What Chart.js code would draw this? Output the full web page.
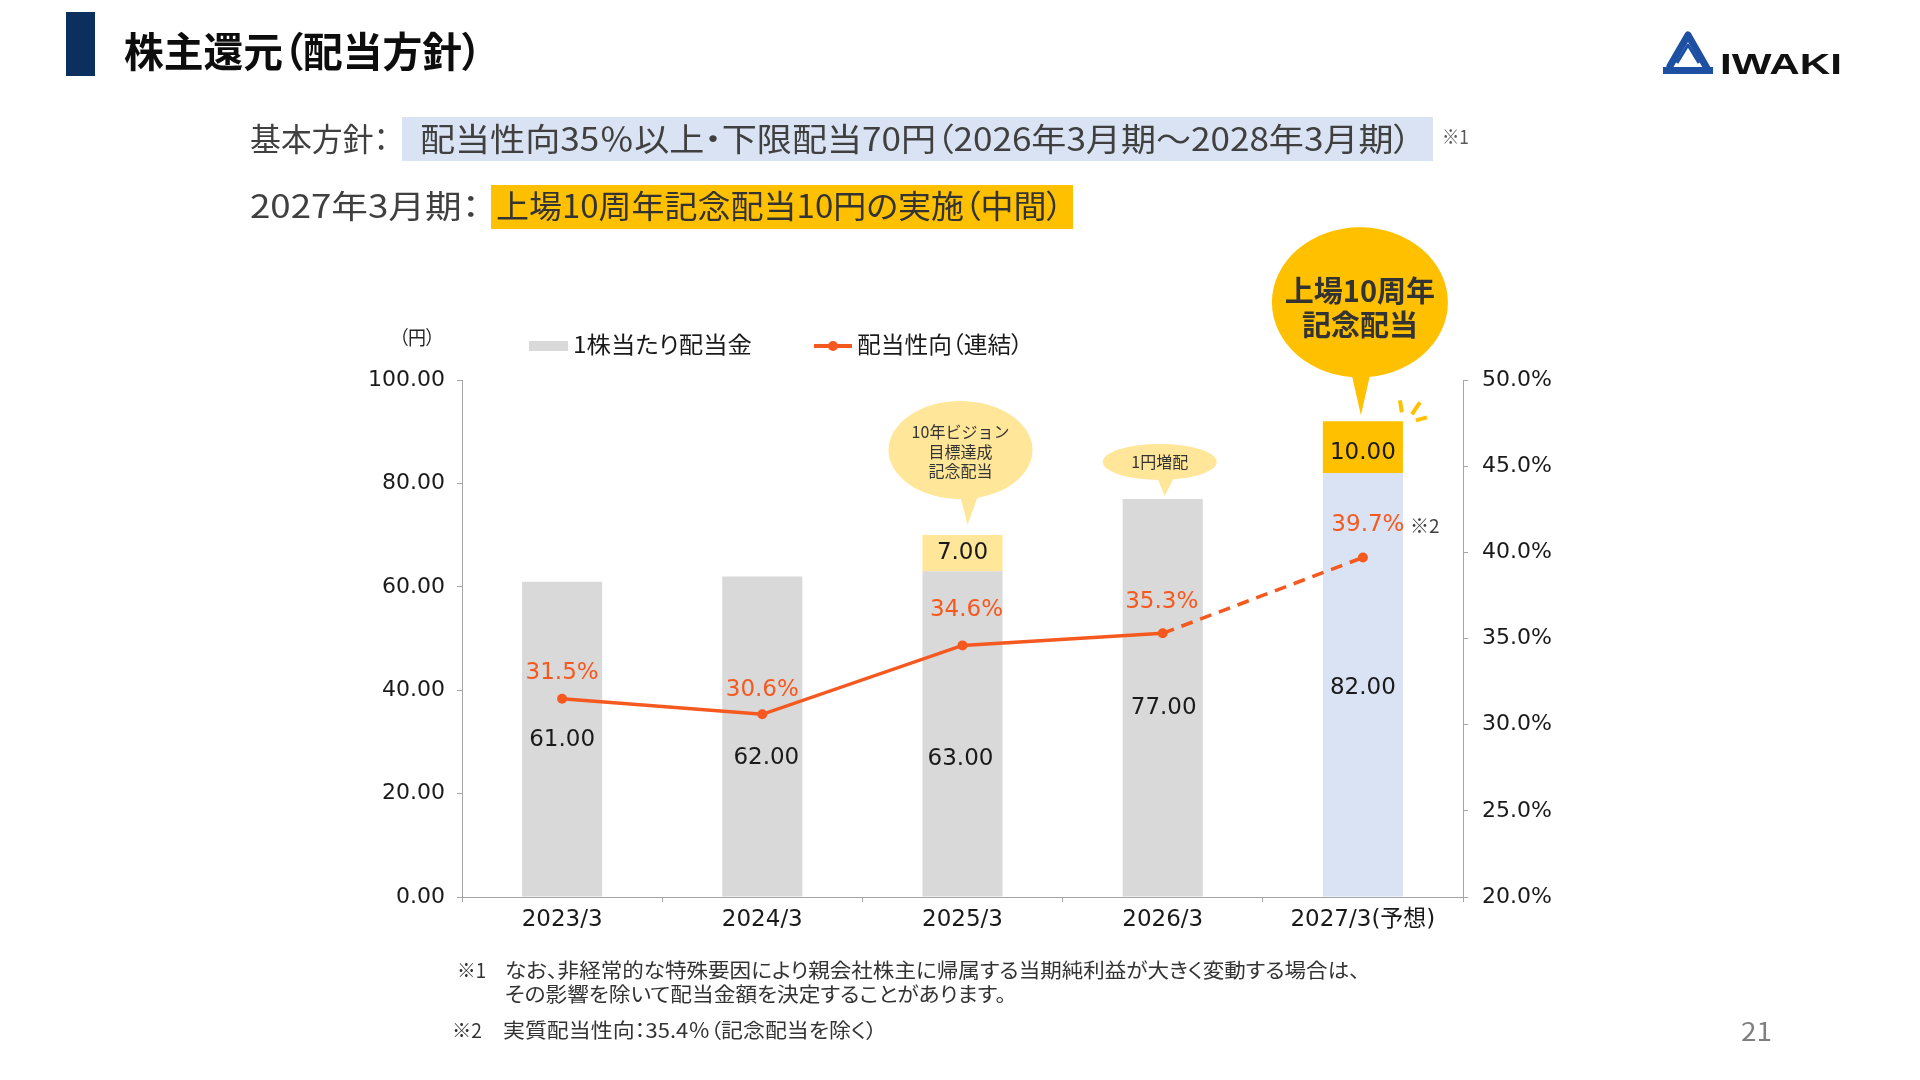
<!DOCTYPE html>
<html lang="ja">
<head>
<meta charset="utf-8">
<script src="https://cdn.jsdelivr.net/npm/chart.js@4.4.1/dist/chart.umd.min.js"></script>
<style>
html,body{margin:0;padding:0;background:#fff;width:1920px;height:1080px;overflow:hidden;}
#wrap{position:relative;width:1920px;height:1080px;}
#c{position:absolute;left:0;top:0;}
.t{position:absolute;white-space:nowrap;line-height:1;transform-origin:0 50%;font-family:"Noto Sans CJK JP","Noto Sans",sans-serif;font-feature-settings:"palt";color:#333;}
.box{position:absolute;}
svg{position:absolute;left:0;top:0;}
</style>
</head>
<body>
<div id="wrap">
<canvas id="c" width="1920" height="1080"></canvas>

<!-- header -->
<div class="box" style="left:66px;top:12px;width:29px;height:64px;background:#0B2F5E"></div>
<div class="t" data-x="124" data-y="52" data-fs="41" data-w="358" style="font-weight:700;color:#0d0d0d">株主還元（配当方針）</div>

<svg width="1920" height="100" viewBox="0 0 1920 100">
  <path d="M1670,66 L1688,35 L1708,70" fill="none" stroke="#1D50A2" stroke-width="7" stroke-linejoin="round" stroke-linecap="round"/>
  <rect x="1663" y="67" width="50" height="7" fill="#1D50A2"/>
  <path d="M1677,63 L1688,45 L1699,63" fill="none" stroke="#1D50A2" stroke-width="3" stroke-linejoin="round"/>
</svg>
<div class="t" data-x="1720" data-y="64" data-fs="30" data-w="122" data-k="0.49" style="font-family:'Liberation Sans',Arial,sans-serif;font-weight:700;color:#111">IWAKI</div>

<div class="box" style="left:402px;top:117px;width:1031px;height:44px;background:#DAE3F3"></div>
<div class="box" style="left:491px;top:185px;width:582px;height:44px;background:#FFC000"></div>
<div class="t" data-x="250" data-y="139" data-fs="32" data-w="139" style="color:#404040">基本方針：</div>
<div class="t" data-x="420" data-y="139" data-fs="32" data-w="991" style="color:#404040">配当性向35％以上・下限配当70円（2026年3月期～2028年3月期）</div>
<div class="t" data-x="1442" data-y="137" data-fs="19" data-w="27" style="color:#595959">※1</div>
<div class="t" data-x="250" data-y="206" data-fs="32" data-w="230" style="color:#404040">2027年3月期：</div>
<div class="t" data-x="496" data-y="206" data-fs="32" data-w="567" style="color:#333">上場10周年記念配当10円の実施（中間）</div>

<!-- legend -->
<div class="t" data-x="399" data-y="338" data-fs="19" data-w="36" style="color:#222">（円）</div>
<div class="box" style="left:529px;top:341px;width:39px;height:10px;background:#D9D9D9"></div>
<div class="t" data-x="573" data-y="345" data-fs="23" data-w="179" style="color:#1a1a1a">1株当たり配当金</div>
<div class="box" style="left:814px;top:344px;width:38px;height:3.5px;background:#F5591F"></div>
<div class="box" style="left:828px;top:341px;width:10px;height:10px;border-radius:50%;background:#F5591F"></div>
<div class="t" data-x="857" data-y="345" data-fs="23" data-w="166" style="color:#1a1a1a">配当性向（連結）</div>

<!-- footnotes -->
<div class="t" data-x="457" data-y="971" data-fs="20" data-w="29">※1</div>
<div class="t" data-x="505" data-y="971" data-fs="20" data-w="855">なお、非経常的な特殊要因により親会社株主に帰属する当期純利益が大きく変動する場合は、</div>
<div class="t" data-x="505" data-y="995" data-fs="20" data-w="501">その影響を除いて配当金額を決定することがあります。</div>
<div class="t" data-x="452" data-y="1031" data-fs="20" data-w="30">※2</div>
<div class="t" data-x="503" data-y="1031" data-fs="20" data-w="374">実質配当性向：35.4％（記念配当を除く）</div>
<div class="t" data-x="1741" data-y="1032" data-fs="25" data-w="31" style="color:#7f7f7f">21</div>
</div>

<script>
// ---- data ----
const categories = ['2023/3', '2024/3', '2025/3', '2026/3', '2027/3(予想)'];
const baseDividend = [61, 62, 63, 77, 82];
const commemorative = [null, null, 7, null, 10];
const payoutRatio = [31.5, 30.6, 34.6, 35.3, 39.7];
const leftTickStep = 20;
const rightTickStep = 5;

// ---- styles ----
const baseColors = ['#D9D9D9', '#D9D9D9', '#D9D9D9', '#D9D9D9', '#DAE3F3'];
const extraColors = ['#FFE699', '#FFE699', '#FFE699', '#FFE699', '#FFC000'];
const lineColor = '#F5591F';
const axisColor = '#A6A6A6';
const numFont = '"DejaVu Sans","Noto Sans CJK JP",sans-serif';
const jpFont = '"Noto Sans CJK JP","Noto Sans",sans-serif';

function layoutTexts() {
  document.querySelectorAll('.t').forEach(el => {
    const fs = +el.dataset.fs;
    const k = el.dataset.k ? +el.dataset.k : 0.556;
    el.style.fontSize = fs + 'px';
    el.style.left = el.dataset.x + 'px';
    el.style.top = (+el.dataset.y - fs * k) + 'px';
    el.style.transform = 'none';
    const w = el.getBoundingClientRect().width;
    if (el.dataset.w && w > 0) el.style.transform = 'scaleX(' + (+el.dataset.w / w) + ')';
  });
}

function callout(ctx, c) {
  ctx.fillStyle = c.color;
  ctx.beginPath();
  ctx.ellipse(c.cx, c.cy, c.rx, c.ry, 0, 0, Math.PI * 2);
  ctx.fill();
  const by = c.cy + c.ry * 0.8;
  ctx.beginPath();
  ctx.moveTo(c.bl, by);
  ctx.lineTo(c.br, by);
  ctx.lineTo(c.tx, c.ty);
  ctx.closePath();
  ctx.fill();
  ctx.fillStyle = '#333';
  ctx.font = c.font;
  ctx.textAlign = 'center';
  ctx.textBaseline = 'middle';
  c.lines.forEach((s, i) => ctx.fillText(s, c.cx, c.cy + c.ly[i]));
}

const annotPlugin = {
  id: 'annot',
  afterDatasetsDraw(chart, args, o) {
    const ctx = chart.ctx;
    const m0 = chart.getDatasetMeta(0), m1 = chart.getDatasetMeta(1), m2 = chart.getDatasetMeta(2);
    ctx.save();
    ctx.textAlign = 'center';
    ctx.textBaseline = 'middle';
    // base dividend labels
    ctx.font = '23px ' + numFont;
    ctx.fillStyle = '#1a1a1a';
    m0.data.forEach((bar, i) => {
      const p = bar.getProps(['x', 'y', 'base'], true);
      ctx.fillText(baseDividend[i].toFixed(2), p.x + o.baseDx[i], (p.y + p.base) / 2 + o.baseDy[i]);
    });
    // commemorative labels
    m1.data.forEach((bar, i) => {
      if (commemorative[i] == null) return;
      const p = bar.getProps(['x', 'y', 'base'], true);
      ctx.fillText(commemorative[i].toFixed(2), p.x, (p.y + p.base) / 2 + o.extraDy[i]);
    });
    // payout ratio labels
    ctx.fillStyle = lineColor;
    m2.data.forEach((pt, i) => {
      const p = pt.getProps(['x', 'y'], true);
      ctx.fillText(payoutRatio[i].toFixed(1) + '%', p.x + o.pctDx[i], p.y + o.pctDy[i]);
      if (i === 4) {
        ctx.save();
        ctx.fillStyle = '#404040';
        ctx.font = '19px ' + jpFont;
        ctx.textAlign = 'left';
        ctx.fillText('※2', p.x + 47, p.y + o.pctDy[i]);
        ctx.restore();
      }
    });
    // callouts anchored to bar tops
    const top = i => {
      const meta = commemorative[i] != null ? m1 : m0;
      return meta.data[i].getProps(['x', 'y'], true);
    };
    let b = top(2);
    callout(ctx, {cx: b.x - 2, cy: b.y - 85, rx: 72, ry: 49, bl: b.x - 4, br: b.x + 18, tx: b.x + 5, ty: b.y - 10,
      color: '#FFE699', font: '16px ' + jpFont, lines: ['10年ビジョン', '目標達成', '記念配当'], ly: [-18, 2, 21]});
    b = top(3);
    callout(ctx, {cx: b.x - 3, cy: b.y - 37, rx: 57, ry: 18, bl: b.x - 6, br: b.x + 12, tx: b.x + 2, ty: b.y - 3,
      color: '#FFE699', font: '16px ' + jpFont, lines: ['1円増配'], ly: [0]});
    b = top(4);
    callout(ctx, {cx: b.x - 3, cy: b.y - 119, rx: 88, ry: 75, bl: b.x - 14, br: b.x + 10, tx: b.x - 2, ty: b.y - 6,
      color: '#FFC000', font: 'bold 29px ' + jpFont, lines: ['上場10周年', '記念配当'], ly: [-11, 23]});
    // sparks
    ctx.strokeStyle = '#FFC000';
    ctx.lineWidth = 4;
    ctx.lineCap = 'butt';
    [[37, -21, 39, -9], [57, -19, 49, -7], [53, -1, 64, -4]].forEach(s => {
      ctx.beginPath();
      ctx.moveTo(b.x + s[0], b.y + s[1]);
      ctx.lineTo(b.x + s[2], b.y + s[3]);
      ctx.stroke();
    });
    ctx.restore();
  }
};

function build() {
  layoutTexts();
  const ctx = document.getElementById('c').getContext('2d');
  new Chart(ctx, {
    type: 'bar',
    data: {
      labels: categories,
      datasets: [
        {type: 'bar', label: '1株当たり配当金', data: baseDividend, backgroundColor: baseColors, yAxisID: 'y',
          stack: 's', order: 2, barPercentage: 0.4, categoryPercentage: 1},
        {type: 'bar', label: '記念配当', data: commemorative, backgroundColor: extraColors, yAxisID: 'y',
          stack: 's', order: 2, barPercentage: 0.4, categoryPercentage: 1},
        {type: 'line', label: '配当性向（連結）', data: payoutRatio, yAxisID: 'y1', order: 0,
          borderColor: lineColor, backgroundColor: lineColor, borderWidth: 3.5, tension: 0,
          pointRadius: 5, pointHoverRadius: 5, pointBorderWidth: 0, pointBackgroundColor: lineColor,
          segment: {borderDash: c => c.p0DataIndex === 3 ? [12, 8] : undefined}}
      ]
    },
    options: {
      responsive: false,
      animation: false,
      layout: {padding: {top: 380, left: 0, right: 0, bottom: 0}},
      plugins: {
        legend: {display: false},
        tooltip: {enabled: false},
        annot: {
          baseDx: [0, 4, -2, 1, 0],
          baseDy: [1, 22, 25, 10, 3],
          extraDy: [0, 0, 0, 0, 6],
          pctDx: [0, 0, 4, -1, 5],
          pctDy: [-26, -24, -35, -31, -32]
        }
      },
      scales: {
        x: {
          stacked: true, offset: true,
          grid: {display: true, drawOnChartArea: false, drawTicks: true, tickLength: 5, color: axisColor, offset: true},
          border: {display: true, color: axisColor, width: 1},
          ticks: {font: {family: numFont, size: 23}, color: '#1a1a1a', padding: 4, maxRotation: 0, autoSkip: false},
          afterFit(s) { s.height = 183; }
        },
        y: {
          stacked: true, position: 'left', min: 0, max: 100,
          grid: {display: true, drawOnChartArea: false, drawTicks: true, tickLength: 5, color: axisColor},
          border: {display: true, color: axisColor, width: 1},
          ticks: {stepSize: leftTickStep, callback: v => Number(v).toFixed(2), font: {family: numFont, size: 22}, color: '#1a1a1a', padding: 12},
          afterFit(s) { s.width = 462; }
        },
        y1: {
          position: 'right', min: 20, max: 50,
          grid: {display: true, drawOnChartArea: false, drawTicks: true, tickLength: 5, color: axisColor},
          border: {display: true, color: axisColor, width: 1},
          ticks: {stepSize: rightTickStep, callback: v => Number(v).toFixed(1) + '%', font: {family: numFont, size: 22}, color: '#1a1a1a', padding: 14},
          afterFit(s) { s.width = 457; }
        }
      }
    },
    plugins: [annotPlugin]
  });
}

if (document.fonts && document.fonts.ready) {
  document.fonts.ready.then(build);
} else {
  build();
}
</script>
</body>
</html>
